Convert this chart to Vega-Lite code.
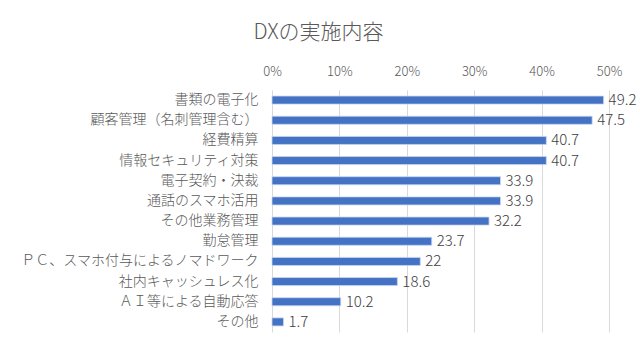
{
  "$schema": "https://vega.github.io/schema/vega-lite/v6.json",
  "width": 337,
  "height": 242,
  "autosize": {"type": "none"},
  "padding": {"left": 272, "top": 90, "right": 31, "bottom": 18},
  "background": "white",
  "title": {
    "text": "DXの実施内容",
    "font": "Noto Sans CJK JP",
    "fontSize": 21,
    "fontWeight": 300,
    "color": "#595959",
    "anchor": "middle",
    "frame": "group",
    "offset": 22,
    "dx": -122
  },
  "config": {
    "view": {"stroke": null},
    "font": "Noto Sans CJK JP"
  },
  "data": {
    "values": [
      {"item": "書類の電子化", "value": 49.2},
      {"item": "顧客管理（名刺管理含む）", "value": 47.5},
      {"item": "経費精算", "value": 40.7},
      {"item": "情報セキュリティ対策", "value": 40.7},
      {"item": "電子契約・決裁", "value": 33.9},
      {"item": "通話のスマホ活用", "value": 33.9},
      {"item": "その他業務管理", "value": 32.2},
      {"item": "勤怠管理", "value": 23.7},
      {"item": "ＰＣ、スマホ付与によるノマドワーク", "value": 22},
      {"item": "社内キャッシュレス化", "value": 18.6},
      {"item": "ＡＩ等による自動応答", "value": 10.2},
      {"item": "その他", "value": 1.7}
    ]
  },
  "encoding": {
    "y": {
      "field": "item",
      "type": "nominal",
      "sort": null,
      "scale": {"paddingInner": 0.6, "paddingOuter": 0.3},
      "axis": {
        "title": null,
        "ticks": false,
        "domain": false,
        "labelFontSize": 14,
        "labelFontWeight": 300,
        "labelColor": "#595959",
        "labelPadding": 14,
        "labelLimit": 300
      }
    },
    "x": {
      "field": "value",
      "type": "quantitative",
      "scale": {"domain": [0, 50]},
      "axis": {
        "orient": "top",
        "title": null,
        "values": [0, 10, 20, 30, 40, 50],
        "labelExpr": "datum.value + '%'",
        "labelFlush": false,
        "labelOverlap": false,
        "ticks": false,
        "domain": false,
        "gridColor": "#d9d9d9",
        "labelFontSize": 13,
        "labelFontWeight": 300,
        "labelColor": "#595959",
        "labelPadding": 12
      }
    }
  },
  "layer": [
    {"mark": {"type": "bar", "color": "#4472c4", "stroke": "#c9d6ee", "strokeWidth": 0.8}},
    {
      "mark": {"type": "text", "align": "left", "dx": 5, "fontSize": 15, "fontWeight": 300, "color": "#404040"},
      "encoding": {"text": {"field": "value", "type": "quantitative"}}
    }
  ]
}
